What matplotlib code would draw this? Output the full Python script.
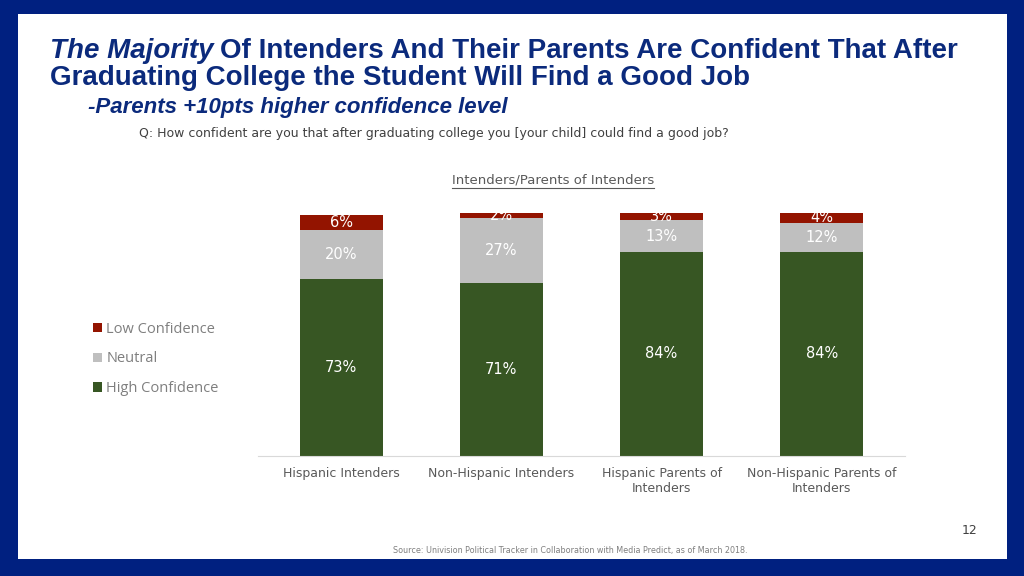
import matplotlib.pyplot as plt
from matplotlib.patches import Rectangle
import numpy as np

# --- data ---
categories = ["Hispanic Intenders", "Non-Hispanic Intenders",
              "Hispanic Parents of\nIntenders", "Non-Hispanic Parents of\nIntenders"]
high_conf = [73, 71, 84, 84]
neutral = [20, 27, 13, 12]
low_conf = [6, 2, 3, 4]
series_names = ["High Confidence", "Neutral", "Low Confidence"]

NAVY = "#002080"
TITLE_C = "#0b2a7c"
GREEN = "#375623"
GREY = "#bfbfbf"
RED = "#931400"
TXT = "#595959"

W, H = 1024, 576
fig = plt.figure(figsize=(W / 100, H / 100), dpi=100)
fig.patch.set_facecolor(NAVY)

# white slide area inside the navy frame
fig.patches.append(Rectangle((18 / W, 1 - 559 / H), (1007 - 18) / W, (559 - 14) / H,
                             transform=fig.transFigure, facecolor="white",
                             edgecolor="none", zorder=-5))

def fx(px):
    return px / W

def fy(py):
    return 1 - py / H

# title
title_font = ["Liberation Sans", "DejaVu Sans"]
t1 = fig.text(fx(50), fy(51), "The Majority", fontsize=20, fontweight="bold", style="italic",
              color=TITLE_C, family=title_font, va="center")
fig.canvas.draw()
x_end = t1.get_window_extent().x1
fig.text((x_end + 7) / W, fy(51), "Of Intenders And Their Parents Are Confident That After",
         fontsize=20, fontweight="bold", color=TITLE_C, family=title_font, va="center")
fig.text(fx(50), fy(78), "Graduating College the Student Will Find a Good Job",
         fontsize=20, fontweight="bold", color=TITLE_C, family=title_font, va="center")
fig.text(fx(88), fy(107), "-Parents +10pts higher confidence level", fontsize=16,
         fontweight="bold", style="italic", color=TITLE_C, family=title_font, va="center")
fig.text(fx(139), fy(134), "Q: How confident are you that after graduating college you [your child] could find a good job?",
         fontsize=9, color="#404040", family="DejaVu Sans", va="center")

# chart heading with underline
head = fig.text(fx(553), fy(180), "Intenders/Parents of Intenders", fontsize=9.5,
                color=TXT, family="DejaVu Sans", ha="center", va="center")
fig.canvas.draw()
bb = head.get_window_extent()
fig.add_artist(plt.Line2D([bb.x0 / W, bb.x1 / W], [(bb.y0 - 1) / H, (bb.y0 - 1) / H],
                          transform=fig.transFigure, color=TXT, lw=0.8))

# bars
ax = fig.add_axes([fx(258), fy(456), fx(905) - fx(258), (456 - 213) / H])
x = np.arange(len(categories))
width = 0.52
high = np.array(high_conf)
neu = np.array(neutral)
low = np.array(low_conf)
ax.bar(x, high, width, color=GREEN, label=series_names[0])
ax.bar(x, neu, width, bottom=high, color=GREY, label=series_names[1])
ax.bar(x, low, width, bottom=high + neu, color=RED, label=series_names[2])

for i in range(len(x)):
    ax.text(x[i], high[i] / 2, f"{high[i]}%", ha="center", va="center", color="white", fontsize=10.5)
    ax.text(x[i], high[i] + neu[i] / 2, f"{neu[i]}%", ha="center", va="center", color="white", fontsize=10.5)
    ax.text(x[i], high[i] + neu[i] + low[i] / 2, f"{low[i]}%", ha="center", va="center",
            color="white", fontsize=10.5)

ax.set_xlim(-0.52, 3.52)
ax.set_ylim(0, 100)
ax.set_yticks([])
ax.set_xticks(x)
ax.set_xticklabels(categories, fontsize=9, color=TXT)
ax.tick_params(axis="x", length=0, pad=8)
for side in ["top", "right", "left"]:
    ax.spines[side].set_visible(False)
ax.spines["bottom"].set_color("#d9d9d9")
ax.patch.set_alpha(0)

# legend (Low on top)
handles, labels = ax.get_legend_handles_labels()
leg = fig.legend(handles[::-1], labels[::-1], loc="center left",
                 bbox_to_anchor=(fx(80), fy(359)), frameon=False,
                 handlelength=0.6, handleheight=0.6, handletextpad=0.3, labelspacing=1.0,
                 labelcolor="#7f7f7f", prop={"family": ["Open Sans", "DejaVu Sans"], "size": 10.5})

fig.text(fx(970), fy(531), "12", fontsize=9, color="#404040", ha="center", va="center")
fig.text(fx(570), fy(551), "Source: Univision Political Tracker in Collaboration with Media Predict, as of March 2018.",
         fontsize=5.8, color="#7f7f7f", ha="center", va="center")

fig.savefig("out.png", dpi=100, facecolor=fig.get_facecolor())
